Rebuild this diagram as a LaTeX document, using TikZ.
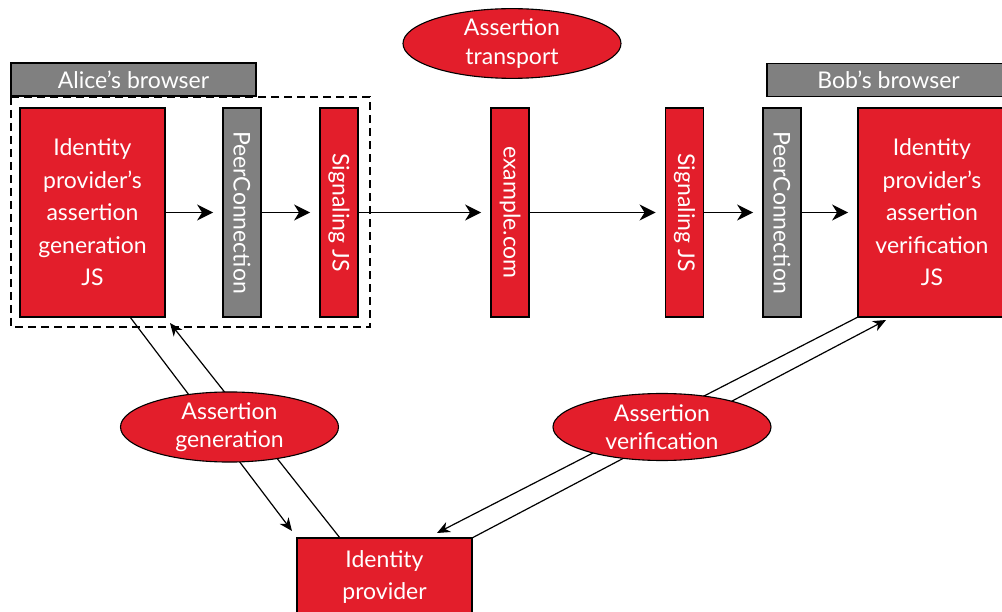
\documentclass[tikz,border=0pt]{standalone}
\usepackage{fontspec}
\setmainfont{Lato}
\usetikzlibrary{shapes.geometric,arrows.meta}
\definecolor{rd}{HTML}{E31E2B}
\definecolor{gr}{HTML}{808080}
\begin{document}
\begin{tikzpicture}[x=1pt,y=-1pt,
  boxtxt/.style={font=\fontsize{23}{32.5}\selectfont,align=center,text=white,inner sep=0pt},
  redbox/.style={boxtxt,draw=black,line width=1.8pt,fill=rd},
  graybox/.style={boxtxt,draw=black,line width=1.8pt,fill=gr},
  bar/.style={rotate=-90,minimum width=209pt,minimum height=38pt},
  oval/.style={ellipse,draw=black,line width=1.1pt,fill=rd,text=white,inner sep=0pt,
    font=\fontsize{23}{28.5}\selectfont,align=center,minimum width=218pt,minimum height=67pt},
  harrow/.style={line width=1.8pt,-{Stealth[length=16pt,width=16pt,inset=5pt]},shorten >=9pt},
  darrow/.style={line width=1.2pt,-{Stealth[length=13pt,width=11pt,inset=4pt]}},
  dline/.style={line width=1.2pt}]
\useasboundingbox (0,0) rectangle (1002,612);
\clip (0,0) rectangle (1002,612);
\fill[white] (0,0) rectangle (1002,612);

% Alice side
\node[graybox,minimum width=245pt,minimum height=33pt] (alab) at (133.5,79.5) {Alice’s browser};
\node[redbox,minimum width=145pt,minimum height=209pt] (idpA) at (92.5,212.5) {Identity\\provider’s\\assertion\\generation\\JS};
\node[graybox,bar] (pcA) at (242,212.5) {PeerConnection};
\node[redbox,bar] (sigA) at (339,212.5) {Signaling JS};
\draw[line width=1.6pt,dash pattern=on 8pt off 5pt] (11,97) rectangle (370,327);

% middle
\node[oval] (trans) at (512,43.5) {Assertion\\transport};
\node[redbox,bar] (ex) at (510,212.5) {example.com};

% Bob side
\node[redbox,bar] (sigB) at (684.5,212.5) {Signaling JS};
\node[graybox,bar] (pcB) at (782,212.5) {PeerConnection};
\node[graybox,minimum width=243pt,minimum height=33pt] (blab) at (888.5,80) {Bob’s browser};
\node[redbox,minimum width=148pt,minimum height=209pt] (idpB) at (932,212.5) {Identity\\provider’s\\assertion\\verification\\JS};

% bottom
\node[redbox,minimum width=175pt,minimum height=78pt] (idp) at (384.5,577) {Identity\\provider};

% horizontal arrows
\draw[harrow] (idpA) -- (pcA);
\draw[harrow] (pcA) -- (sigA);
\draw[harrow] (sigA) -- (ex);
\draw[harrow] (ex) -- (sigB);
\draw[harrow] (sigB) -- (pcB);
\draw[harrow] (pcB) -- (idpB);

% diagonal connectors
\coordinate (ga) at (130,317);
\coordinate (gb) at (292,531);
\coordinate (gc) at (340,538);
\coordinate (gd) at (170,323);
\coordinate (va) at (858,317);
\coordinate (vb) at (437,533);
\coordinate (vc) at (472,538);
\coordinate (vd) at (886,320);
\draw[darrow] (ga) -- (gb);
\draw[darrow] (gc) -- (gd);
\draw[darrow] (va) -- (vb);
\draw[darrow] (vc) -- (vd);

\node[oval] (gen) at (229.5,427) {Assertion\\generation};
\node[oval] (ver) at (662,427) {Assertion\\verification};
\end{tikzpicture}
\end{document}
